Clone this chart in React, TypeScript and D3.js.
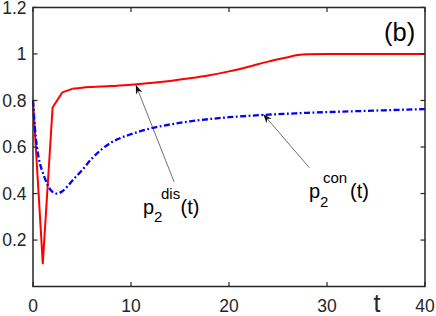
import React from 'react';
import * as d3 from 'd3';

// red solid curve p2^dis(t)
const tDis = [0, 1, 2, 3, 4, 5, 6, 8, 10, 12, 14, 16, 18, 20, 22, 24, 26, 27, 28, 30, 35, 40];
const pDis = [0.8, 0.1, 0.77, 0.835, 0.85, 0.855, 0.858, 0.862, 0.868, 0.875, 0.884, 0.895, 0.908, 0.925, 0.945, 0.967, 0.986, 0.995, 0.999, 1.0, 1.0, 1.0];

// blue dash-dot curve p2^con(t)
const tCon = [0, 0.2, 0.4, 0.7, 1, 1.4, 1.8, 2.4, 3, 3.5, 4, 5, 6, 7, 8, 9, 10, 12, 14, 16, 18, 20, 22, 24, 26, 28, 30, 33, 36, 40];
const pCon = [0.8, 0.68, 0.6, 0.53, 0.49, 0.445, 0.415, 0.4, 0.41, 0.43, 0.455, 0.5, 0.55, 0.59, 0.62, 0.64, 0.655, 0.68, 0.697, 0.71, 0.72, 0.728, 0.734, 0.739, 0.743, 0.747, 0.75, 0.754, 0.758, 0.763];

const xTicks = [0, 10, 20, 30, 40];
const yTicks = [0.2, 0.4, 0.6, 0.8, 1, 1.2];
const yTickLabels = ['0.2', '0.4', '0.6', '0.8', '1', '1.2'];

const W = 436;
const H = 316;
const axisColor = '#262626';
const font = '"Liberation Sans", Arial, Helvetica, sans-serif';

export default function App() {
  const x = d3.scaleLinear().domain([0, 40]).range([33, 425]);
  const y = d3.scaleLinear().domain([0, 1.2]).range([286.6, 7.4]);
  const [x0, x1] = x.range();
  const [y0, y1] = y.range();
  const tick = 4.5;

  // sharp dip drawn with straight segments, slow rise smoothed
  const split = tDis.indexOf(4);
  const lineA = d3.line<number>().x((_, i) => x(tDis[i])).y(d => y(d));
  const lineB = d3.line<number>().x((_, i) => x(tDis[i + split])).y(d => y(d)).curve(d3.curveMonotoneX);
  const lineCon = d3.line<number>().x((_, i) => x(tCon[i])).y(d => y(d)).curve(d3.curveMonotoneX);

  // annotation arrows in data coords: [t, p] tail -> head
  const arrows = [
    { from: [14.4, 0.45], to: [10.5, 0.866] },
    { from: [28.2, 0.511], to: [23.5, 0.741] },
  ];

  const labels = [
    { sup: 'dis', px: 143, py: 213.5, sx: 11, ux: 18, tx: 37.5 },
    { sup: 'con', px: 309, py: 198, sx: 11, ux: 14, tx: 41 },
  ];

  return (
    <svg width={W} height={H} style={{ position: 'absolute', left: 0, top: 0, background: '#fff' }} fontFamily={font}>
      <defs>
        <marker id="head" viewBox="-9 -4 10 8" refX={0} refY={0} markerWidth={10} markerHeight={8} markerUnits="userSpaceOnUse" orient="auto">
          <path d="M0,0 L-9,-3.5 L-6,0 L-9,3.5 Z" fill="#111" />
        </marker>
      </defs>

      {/* curves */}
      <path d={lineA(pDis.slice(0, split + 1)) || ''} fill="none" stroke="#ff0000" strokeWidth={2} strokeLinejoin="round" />
      <path d={lineB(pDis.slice(split)) || ''} fill="none" stroke="#ff0000" strokeWidth={2} strokeLinejoin="round" />
      <path d={lineCon(pCon) || ''} fill="none" stroke="#0000ff" strokeWidth={2.3} strokeDasharray="6,2.5,1.8,2.5" />

      {/* box */}
      <path d={`M${x0},${y1} H${x1} V${y0} H${x0} Z`} fill="none" stroke={axisColor} strokeWidth={1.5} />

      {/* x ticks */}
      {xTicks.map(t => (
        <g key={'x' + t}>
          <line x1={x(t)} x2={x(t)} y1={y0} y2={y0 - tick} stroke={axisColor} strokeWidth={1.2} />
          <line x1={x(t)} x2={x(t)} y1={y1} y2={y1 + tick} stroke={axisColor} strokeWidth={1.2} />
          <text x={x(t)} y={312} textAnchor="middle" fontSize={17.5} fill={axisColor}>{t}</text>
        </g>
      ))}

      {/* y ticks */}
      {yTicks.map((v, i) => (
        <g key={'y' + v}>
          <line x1={x0} x2={x0 + tick} y1={y(v)} y2={y(v)} stroke={axisColor} strokeWidth={1.2} />
          <line x1={x1} x2={x1 - tick} y1={y(v)} y2={y(v)} stroke={axisColor} strokeWidth={1.2} />
          <text x={26.5} y={y(v) + 6.3} textAnchor="end" fontSize={17.5} fill={axisColor}>{yTickLabels[i]}</text>
        </g>
      ))}

      {/* x axis label */}
      <text x={373.5} y={312} fontSize={25} fill={axisColor}>t</text>

      {/* panel tag */}
      <text x={384} y={41} fontSize={25.5} fill="#000">(b)</text>

      {/* arrows */}
      {arrows.map((a, i) => (
        <line key={'a' + i} x1={x(a.from[0])} y1={y(a.from[1])} x2={x(a.to[0])} y2={y(a.to[1])}
          stroke="#333" strokeWidth={0.7} markerEnd="url(#head)" />
      ))}

      {/* curve labels */}
      {labels.map(l => (
        <g key={l.sup} fill="#000">
          <text x={l.px} y={l.py} fontSize={20}>p</text>
          <text x={l.px + l.sx} y={l.py + 8.5} fontSize={15}>2</text>
          <text x={l.px + l.ux} y={l.py - 15} fontSize={15}>{l.sup}</text>
          <text x={l.px + l.tx} y={l.py} fontSize={20}>(t)</text>
        </g>
      ))}
    </svg>
  );
}
